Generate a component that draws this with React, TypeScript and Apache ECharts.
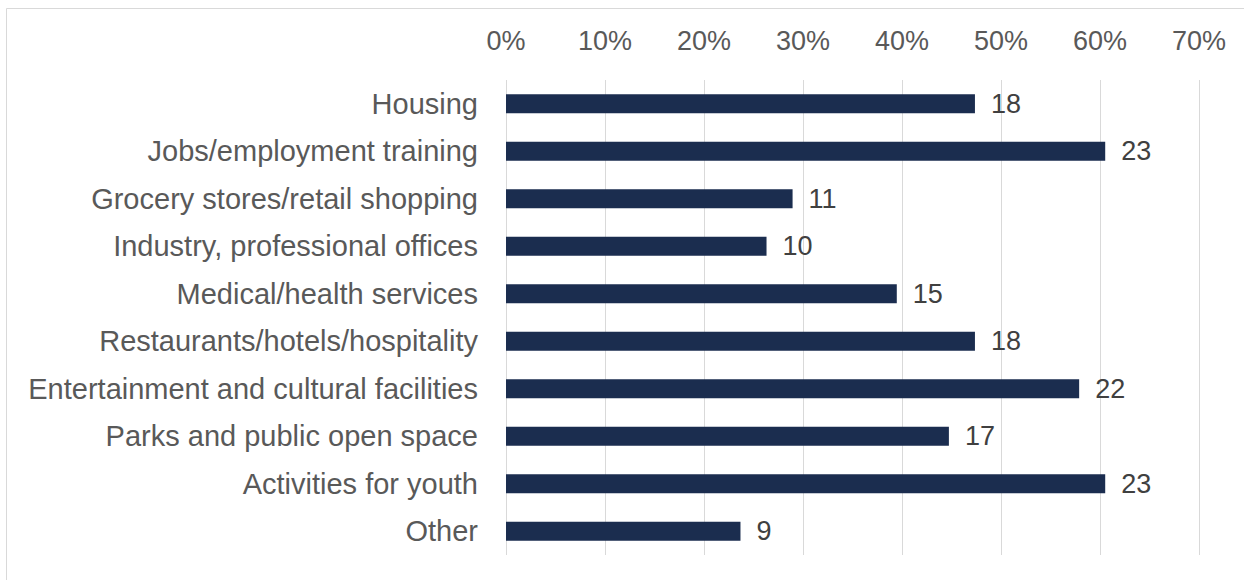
import React, { useEffect, useRef } from "react";
import * as echarts from "echarts";

const categories = [
  "Housing",
  "Jobs/employment training",
  "Grocery stores/retail shopping",
  "Industry, professional offices",
  "Medical/health services",
  "Restaurants/hotels/hospitality",
  "Entertainment and cultural facilities",
  "Parks and public open space",
  "Activities for youth",
  "Other",
];
const counts = [18, 23, 11, 10, 15, 18, 22, 17, 23, 9];
const totalRespondents = 38;
const xTicks = [0, 10, 20, 30, 40, 50, 60, 70];

export default function App() {
  const ref = useRef<HTMLDivElement>(null);
  useEffect(() => {
    if (!ref.current) return;
    const chart = echarts.init(ref.current, null, { renderer: "svg" });
    const font = "'Liberation Sans', Arial, sans-serif";
    const data = counts.map((c) => ({ value: (c / totalRespondents) * 100, count: c }));
    chart.setOption({
      animation: false,
      backgroundColor: "#ffffff",
      grid: { left: 506, right: 45, top: 80, bottom: 25, containLabel: false },
      graphic: [
        {
          type: "rect",
          shape: { x: 6.5, y: 8.5, width: 1400, height: 700 },
          style: { fill: "none", stroke: "#d9d9d9", lineWidth: 1 },
          silent: true,
        },
      ],
      xAxis: {
        type: "value",
        position: "top",
        min: xTicks[0],
        max: xTicks[xTicks.length - 1],
        interval: 10,
        axisLine: { show: false },
        axisTick: { show: false },
        axisLabel: {
          formatter: (v: number) => `${v}%`,
          color: "#595959",
          fontSize: 27,
          fontFamily: font,
          margin: 26,
        },
        splitLine: { show: true, lineStyle: { color: "#d9d9d9", width: 1 } },
      },
      yAxis: {
        type: "category",
        data: categories,
        inverse: true,
        axisLine: { show: false },
        axisTick: { show: false },
        axisLabel: {
          color: "#595959",
          fontSize: 29,
          fontFamily: font,
          margin: 28,
          padding: [0, 0, 3, 0],
        },
      },
      series: [
        {
          type: "bar",
          data,
          barWidth: 19,
          itemStyle: { color: "#1b2d4f" },
          label: {
            show: true,
            position: "right",
            distance: 16,
            color: "#404040",
            fontSize: 27,
            fontFamily: font,
            formatter: (p: any) => `${p.data.count}`,
          },
        },
      ],
    });
    return () => chart.dispose();
  }, []);
  return (
    <div
      ref={ref}
      style={{ position: "fixed", left: 0, top: 0, width: 1244, height: 580 }}
    />
  );
}
